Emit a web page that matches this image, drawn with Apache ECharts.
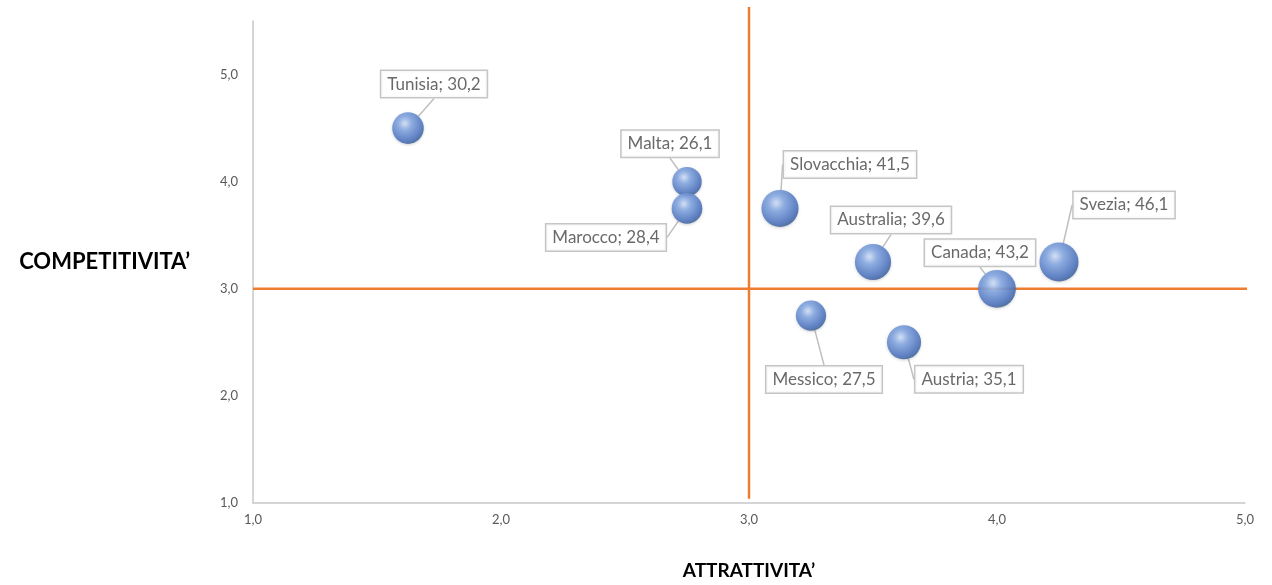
<!DOCTYPE html>
<html>
<head>
<meta charset="utf-8">
<script src="https://cdn.jsdelivr.net/npm/echarts@6/dist/echarts.min.js"></script>
<style>
  html, body { margin: 0; padding: 0; background: #fff; }
  #container { width: 1272px; height: 585px; }
</style>
</head>
<body>
<div id="container"></div>
<script>
// dati del grafico
const paesi = ["Tunisia", "Malta", "Marocco", "Slovacchia", "Australia", "Canada", "Svezia", "Messico", "Austria"];
const attrattivita = [1.625, 2.75, 2.75, 3.125, 3.5, 4.0, 4.25, 3.25, 3.625];
const competitivita = [4.5, 4.0, 3.75, 3.75, 3.25, 3.0, 3.25, 2.75, 2.5];
const punteggio = [30.2, 26.1, 28.4, 41.5, 39.6, 43.2, 46.1, 27.5, 35.1];

// linee dei quadranti
const quadranteX = 3;
const quadranteY = 3;
const lineaVerticale = [[quadranteX, 5.63], [quadranteX, 1.04]];
const lineaOrizzontale = [[1, quadranteY], [5.085, quadranteY]];

// spostamento delle etichette (px, rispetto al centro della bolla)
const spostamenti = [
  [26, -44], [-17, -38], [-81, 29], [70, -44], [18, -42],
  [-17, -36], [65, -57], [13, 64], [65, 37]
];

const fmt = (v) => v.toFixed(1).replace(".", ",");
const font = "Lato, 'Open Sans', sans-serif";

let dom = document.getElementById("container");
let myChart = echarts.init(dom, null, { renderer: "canvas" });

const sfera = {
  type: "radial",
  x: 0.4, y: 0.35, r: 0.72,
  colorStops: [
    { offset: 0, color: "#d2e1f7" },
    { offset: 0.3, color: "#86a8e2" },
    { offset: 0.75, color: "#5479c2" },
    { offset: 0.92, color: "#46689f" },
    { offset: 1, color: "#7e9acb" }
  ]
};

let option = {
  animation: false,
  textStyle: { fontFamily: font },
  grid: { left: 253, right: 27, top: 21, bottom: 81, containLabel: false },
  xAxis: {
    type: "value",
    min: 1, max: 5, interval: 1,
    name: "ATTRATTIVITA’",
    nameLocation: "middle",
    nameGap: 58,
    nameTextStyle: { fontSize: 19, fontWeight: "bold", color: "#000", fontFamily: font },
    axisLine: { show: true, lineStyle: { color: "#c8c8c8", width: 1.5 } },
    axisTick: { show: false },
    splitLine: { show: false },
    axisLabel: { color: "#595959", fontSize: 13, margin: 10, formatter: fmt }
  },
  yAxis: {
    type: "value",
    min: 1, max: 5.5, interval: 1,
    name: "COMPETITIVITA’",
    nameLocation: "middle",
    nameRotate: 0,
    nameGap: 63,
    nameTextStyle: {
      fontSize: 22, fontWeight: "bold", color: "#000", fontFamily: font,
      padding: [56, 0, 0, 0]
    },
    axisLine: { show: true, lineStyle: { color: "#c8c8c8", width: 1.5 } },
    axisTick: { show: false },
    splitLine: { show: false },
    axisLabel: {
      color: "#595959", fontSize: 13, margin: 15,
      formatter: (v) => (v > 5 ? "" : fmt(v))
    }
  },
  series: [
    {
      type: "line",
      data: lineaVerticale,
      symbol: "none",
      clip: false,
      silent: true,
      z: 1,
      lineStyle: { color: "#ed7d31", width: 2.5 }
    },
    {
      type: "line",
      data: lineaOrizzontale,
      symbol: "none",
      clip: false,
      silent: true,
      z: 1,
      lineStyle: { color: "#ed7d31", width: 2.5 }
    },
    {
      type: "scatter",
      z: 3,
      data: paesi.map((p, i) => [attrattivita[i], competitivita[i], punteggio[i], p]),
      symbolSize: (val) => 5.75 * Math.sqrt(val[2]),
      itemStyle: {
        color: sfera,
        opacity: 0.9,
        shadowColor: "rgba(0,0,0,0.2)",
        shadowBlur: 3,
        shadowOffsetY: 1
      },
      label: {
        show: true,
        position: "inside",
        formatter: (p) => p.data[3] + "; " + fmt(p.data[2]),
        fontFamily: font,
        fontSize: 17,
        color: "#595959",
        backgroundColor: "#fff",
        borderColor: "#bfbfbf",
        borderWidth: 1.5,
        padding: [5, 6, 4, 6]
      },
      labelLine: {
        show: true,
        lineStyle: { color: "#bfbfbf", width: 1.5 }
      },
      labelLayout: (params) => ({
        dx: spostamenti[params.dataIndex][0],
        dy: spostamenti[params.dataIndex][1]
      })
    }
  ]
};

if (option && typeof option === "object") {
  myChart.setOption(option);
}

window.addEventListener("resize", myChart.resize);
</script>
</body>
</html>
